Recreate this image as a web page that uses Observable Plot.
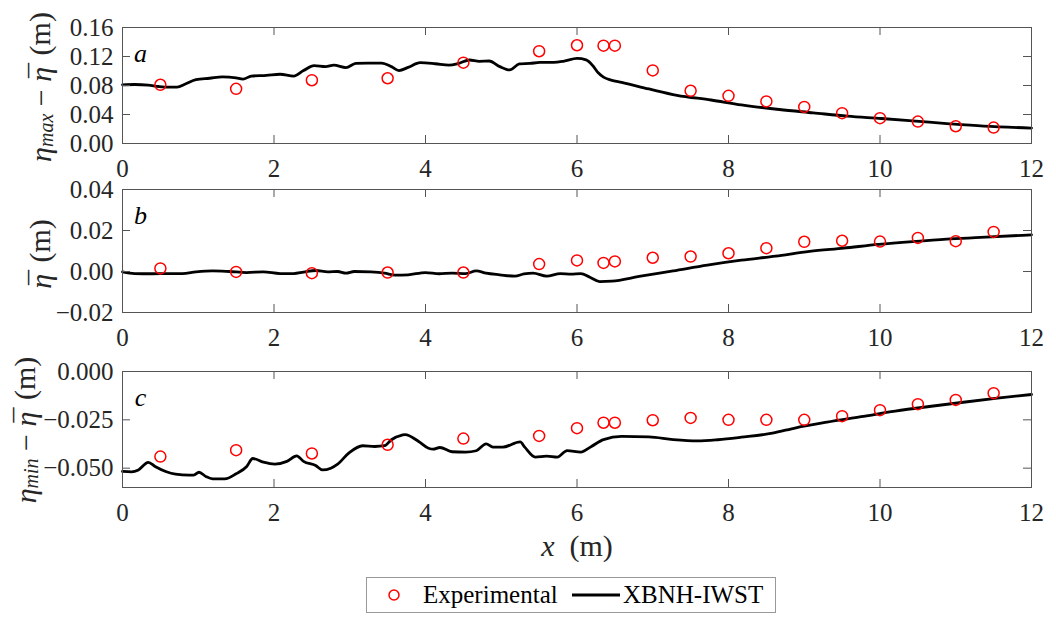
<!DOCTYPE html>
<html><head><meta charset="utf-8">
<script src="https://cdn.jsdelivr.net/npm/d3@7"></script>
<script src="https://cdn.jsdelivr.net/npm/@observablehq/plot@0.6"></script>
<style>
body{margin:0;background:#fff;}
#chart{position:relative;width:1056px;height:617px;font-family:"Liberation Serif","Times New Roman",serif;}
#chart svg{display:block;}
#chart svg text{font-family:"Liberation Serif","Times New Roman",serif;}
</style></head><body><div id="chart"></div>
<script>
// ---- data ----
const xTicks = [0, 2, 4, 6, 8, 10, 12];
const yTicksA = [0, 0.04, 0.08, 0.12, 0.16];
const yTicksB = [-0.02, 0, 0.02, 0.04];
const yTicksC = [-0.05, -0.025, 0];

const expX = [0.5, 1.5, 2.5, 3.5, 4.5, 5.5, 6.0, 6.35, 6.5, 7.0, 7.5, 8.0, 8.5, 9.0, 9.5, 10.0, 10.5, 11.0, 11.5];
const expA = [0.081, 0.0754, 0.0873, 0.090, 0.1115, 0.1273, 0.1355, 0.135, 0.135, 0.1008, 0.0727, 0.0658, 0.058, 0.0505, 0.0418, 0.035, 0.0302, 0.0238, 0.022];
const expB = [0.0015, -0.0002, -0.0008, -0.0005, -0.0005, 0.0036, 0.0054, 0.0042, 0.0049, 0.0067, 0.0073, 0.0089, 0.0114, 0.0145, 0.015, 0.0146, 0.0164, 0.0148, 0.0193];
const expC = [-0.044, -0.0407, -0.0424, -0.0379, -0.0347, -0.0333, -0.0293, -0.0265, -0.0265, -0.0252, -0.024, -0.025, -0.025, -0.025, -0.0231, -0.02, -0.0169, -0.0147, -0.0112];

const modelXA = [0, 0.16, 0.34, 0.48, 0.61, 0.72, 0.83, 0.97, 1.15, 1.32, 1.50, 1.59, 1.70, 1.90, 2.08, 2.26, 2.39, 2.53, 2.68, 2.79, 2.95, 3.08, 3.24, 3.42, 3.55, 3.65, 3.77, 3.93, 4.13, 4.31, 4.44, 4.58, 4.71, 4.84, 4.98, 5.11, 5.24, 5.38, 5.51, 5.69, 5.83, 6.0, 6.12, 6.21, 6.28, 6.35, 6.45, 6.59, 6.95, 7.32, 7.77, 8.17, 8.67, 9.12, 9.57, 10.02, 10.47, 10.92, 11.37, 12.0];
const modelA = [0.081, 0.0814, 0.0805, 0.0786, 0.0777, 0.0777, 0.082, 0.088, 0.090, 0.092, 0.0905, 0.0887, 0.093, 0.094, 0.0955, 0.093, 0.1006, 0.1074, 0.106, 0.108, 0.1047, 0.1106, 0.111, 0.111, 0.106, 0.1006, 0.105, 0.1115, 0.110, 0.108, 0.1106, 0.1152, 0.1134, 0.1138, 0.106, 0.1015, 0.1097, 0.1104, 0.1118, 0.1118, 0.1136, 0.1173, 0.1154, 0.1072, 0.0975, 0.0915, 0.0875, 0.0843, 0.0752, 0.0665, 0.060, 0.0533, 0.0469, 0.0423, 0.0377, 0.0345, 0.0309, 0.0272, 0.024, 0.0213];

const modelXB = [0, 0.16, 0.39, 0.61, 0.79, 0.97, 1.19, 1.41, 1.64, 1.86, 2.08, 2.26, 2.39, 2.55, 2.71, 2.84, 2.95, 3.06, 3.28, 3.46, 3.6, 3.77, 4.0, 4.18, 4.35, 4.53, 4.67, 4.8, 4.98, 5.18, 5.3, 5.42, 5.6, 5.78, 5.92, 6.05, 6.17, 6.3, 6.46, 6.82, 7.27, 7.72, 8.17, 8.62, 9.07, 9.52, 9.98, 10.43, 10.88, 11.33, 12];
const modelB = [-0.0002, -0.001, -0.0011, -0.001, -0.001, -0.0002, 0.0003, 0, -0.0005, -0.0002, -0.001, -0.001, -0.0003, 0.0005, -0.0002, 0, -0.0008, 0, -0.0002, -0.0008, -0.0018, -0.0016, -0.0005, -0.0011, -0.0008, -0.001, 0.0003, -0.0008, -0.0016, -0.0023, -0.0012, -0.0008, -0.0023, -0.001, -0.0013, -0.001, -0.0028, -0.0049, -0.0047, -0.0024, 0.0003, 0.0031, 0.0055, 0.0075, 0.0098, 0.0114, 0.0132, 0.0146, 0.0158, 0.0166, 0.0179];

const modelXC = [0, 0.12, 0.21, 0.34, 0.43, 0.57, 0.7, 0.88, 0.94, 1.01, 1.1, 1.19, 1.35, 1.5, 1.64, 1.72, 1.86, 2.01, 2.17, 2.3, 2.39, 2.55, 2.64, 2.75, 2.84, 2.99, 3.17, 3.33, 3.46, 3.55, 3.69, 3.73, 3.91, 4.04, 4.1, 4.19, 4.35, 4.53, 4.67, 4.8, 4.89, 5.02, 5.25, 5.31, 5.45, 5.6, 5.74, 5.87, 6.05, 6.19, 6.35, 6.59, 6.95, 7.27, 7.59, 7.86, 8.17, 8.58, 8.89, 9.3, 9.75, 10.2, 10.65, 11.1, 11.55, 12];
const modelC = [-0.0517, -0.0519, -0.0509, -0.047, -0.0491, -0.0517, -0.0531, -0.0536, -0.0536, -0.0521, -0.0543, -0.0555, -0.0555, -0.0529, -0.0491, -0.045, -0.0469, -0.0479, -0.0465, -0.0436, -0.0465, -0.0486, -0.0509, -0.05, -0.0479, -0.0421, -0.0384, -0.0388, -0.0384, -0.0353, -0.0329, -0.0326, -0.0362, -0.0397, -0.0402, -0.0393, -0.0415, -0.0417, -0.041, -0.0374, -0.0391, -0.0391, -0.0364, -0.0391, -0.0443, -0.0438, -0.0443, -0.0409, -0.0417, -0.0388, -0.0352, -0.0336, -0.0338, -0.0352, -0.0359, -0.0353, -0.034, -0.0319, -0.0291, -0.0262, -0.0234, -0.0205, -0.0181, -0.0159, -0.0138, -0.0119];

const seriesNames = ["Experimental", "XBNH-IWST"];

// ---- layout ----
const W = 1056, ML = 122, MR = 25;
const FRAME = "#555", TXT = "#262626";
const FONT = '"Liberation Serif", "Times New Roman", serif';

function panel({height, mt, mb, yDomain, yTicks, yFmt, modelX, modelY, expY, letter}) {
  const innerH = height - mt - mb, innerW = W - ML - MR, tl = 8;
  const model = modelX.map((x, i) => ({x, y: modelY[i]}));
  const exp = expX.map((x, i) => ({x, y: expY[i]}));
  return Plot.plot({
    width: W, height, marginLeft: ML, marginRight: MR, marginTop: mt, marginBottom: mb,
    style: {fontFamily: FONT, fontSize: "25px", color: TXT, background: "white", overflow: "visible"},
    x: {domain: [0, 12]},
    y: {domain: yDomain},
    marks: [
      Plot.line(model, {x: "x", y: "y", stroke: "black", strokeWidth: 2.8, curve: "monotone-x"}),
      Plot.dot(exp, {x: "x", y: "y", r: 5.5, stroke: "#ff0000", strokeWidth: 1.5, fill: "none"}),
      Plot.tickX(xTicks, {x: d => d, insetTop: innerH - tl, stroke: FRAME}),
      Plot.tickX(xTicks, {x: d => d, insetBottom: innerH - tl, stroke: FRAME}),
      Plot.tickY(yTicks, {y: d => d, insetRight: innerW - tl, stroke: FRAME}),
      Plot.tickY(yTicks, {y: d => d, insetLeft: innerW - tl, stroke: FRAME}),
      Plot.frame({stroke: FRAME}),
      Plot.axisX(xTicks, {tickSize: 0, tickPadding: 16, label: null, tickFormat: d3.format("d"), fontFamily: FONT}),
      Plot.axisY(yTicks, {tickSize: 0, tickPadding: 9, label: null, tickFormat: d3.format(yFmt), fontFamily: FONT}),
      Plot.text([letter], {text: d => d, frameAnchor: "top-left", dx: 18, dy: 26, textAnchor: "middle", lineAnchor: "middle", fontStyle: "italic", fontSize: 26, fill: "black", fontFamily: FONT})
    ]
  });
}

function etaBar(t) {
  // italic eta with a macron drawn over it
  t.append("tspan").attr("font-style", "italic").text("η");
  t.append("tspan").attr("dx", -11).attr("dy", -1).text("¯");
  t.append("tspan").attr("dx", 1).attr("dy", 1).text("");
}

function ylabel(svg, cx, cy, sub) {
  const t = d3.select(svg).append("text")
    .attr("transform", `translate(${cx},${cy}) rotate(-90)`)
    .attr("text-anchor", "middle").attr("dominant-baseline", "central")
    .attr("font-size", 30).attr("fill", TXT);
  if (sub) {
    t.append("tspan").attr("font-style", "italic").text("η");
    t.append("tspan").attr("font-style", "italic").attr("font-size", 20).attr("dy", 6).text(sub);
    t.append("tspan").attr("dy", -6).text(" − ");
  }
  etaBar(t);
  t.append("tspan").text(" (m)");
}

const root = document.getElementById("chart");
const svgA = panel({height: 170, mt: 27, mb: 27, yDomain: [0, 0.16], yTicks: yTicksA, yFmt: ".2f", modelX: modelXA, modelY: modelA, expY: expA, letter: "a"});
const svgB = panel({height: 170, mt: 19, mb: 28, yDomain: [-0.02, 0.04], yTicks: yTicksB, yFmt: ".2f", modelX: modelXB, modelY: modelB, expY: expB, letter: "b"});
const svgC = panel({height: 277, mt: 31, mb: 130, yDomain: [-0.06, 0], yTicks: yTicksC, yFmt: ".3f", modelX: modelXC, modelY: modelC, expY: expC, letter: "c"});
root.append(svgA, svgB, svgC);

ylabel(svgA, 40, 87, "max");
ylabel(svgB, 40, 84, null);
ylabel(svgC, 25, 90, "min");

// x label
const gC = d3.select(svgC);
const xl = gC.append("text").attr("x", 577).attr("y", 205).attr("text-anchor", "middle").attr("dominant-baseline", "central")
  .attr("font-size", 30).attr("fill", TXT);
xl.append("tspan").attr("font-style", "italic").text("x");
xl.append("tspan").text("\u2002(m)");

// legend
const lg = gC.append("g").attr("font-size", 25).attr("fill", "black").attr("text-anchor", "start");
lg.append("rect").attr("x", 366.5).attr("y", 237.5).attr("width", 409).attr("height", 35).attr("fill", "white").attr("stroke", "#999");
lg.append("circle").attr("cx", 394).attr("cy", 255).attr("r", 5).attr("fill", "none").attr("stroke", "#ff0000").attr("stroke-width", 1.5);
lg.append("text").attr("x", 423).attr("y", 263).text(seriesNames[0]);
lg.append("line").attr("x1", 572).attr("x2", 620).attr("y1", 255).attr("y2", 255).attr("stroke", "black").attr("stroke-width", 2.8);
lg.append("text").attr("x", 623).attr("y", 263).text(seriesNames[1]);

// make sure every text uses the serif family
for (const s of [svgA, svgB, svgC]) d3.select(s).selectAll("text").style("font-family", FONT);
</script></body></html>
